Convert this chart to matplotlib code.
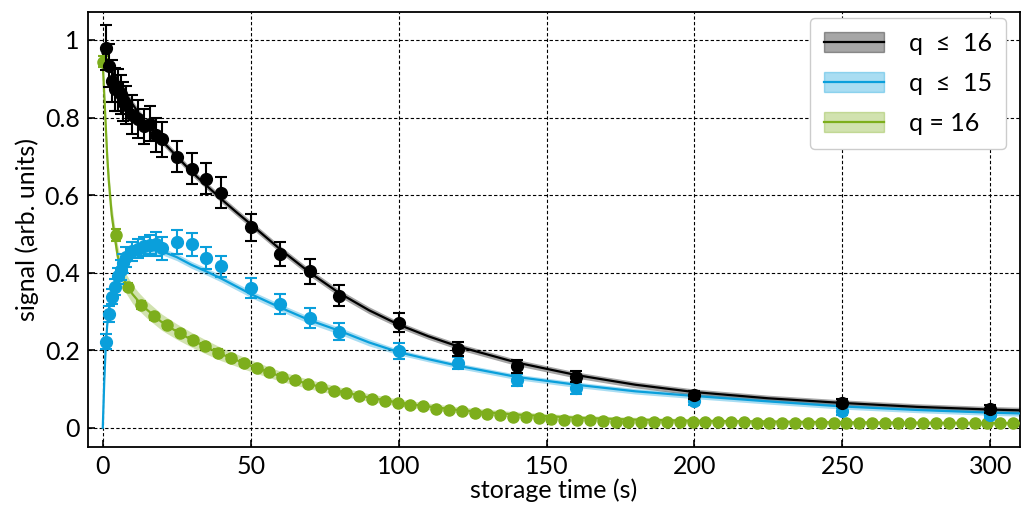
import matplotlib
matplotlib.use("Agg")
import matplotlib.pyplot as plt
from matplotlib.patches import Patch
from matplotlib.lines import Line2D

plt.rcParams['font.family'] = ['Lato', 'DejaVu Sans']

# measured points, q <= 16 (black) and q <= 15 (blue)
t_meas = [1, 2, 3, 4, 5, 6, 7, 8, 10, 12, 14, 16, 18, 20, 25, 30, 35, 40,
          50, 60, 70, 80, 100, 120, 140, 160, 200, 250, 300]
black_y = [0.980, 0.934, 0.894, 0.873, 0.871, 0.860, 0.841, 0.832, 0.807, 0.796,
           0.777, 0.784, 0.755, 0.744, 0.699, 0.668, 0.642, 0.606,
           0.517, 0.448, 0.403, 0.341, 0.271, 0.203, 0.158, 0.132, 0.085, 0.065, 0.049]
black_err = [0.058, 0.055, 0.055, 0.055, 0.055, 0.05, 0.05, 0.05, 0.05, 0.05,
             0.045, 0.045, 0.045, 0.045, 0.04, 0.04, 0.04, 0.04,
             0.035, 0.032, 0.031, 0.028, 0.025, 0.018, 0.016, 0.015, 0.01, 0.01, 0.01]
blue_y = [0.222, 0.293, 0.338, 0.363, 0.392, 0.407, 0.424, 0.440, 0.455, 0.462,
          0.468, 0.472, 0.474, 0.463, 0.479, 0.473, 0.437, 0.416,
          0.360, 0.319, 0.283, 0.248, 0.198, 0.167, 0.124, 0.102, 0.068, 0.042, 0.034]
blue_err = [0.02, 0.02, 0.02, 0.02, 0.02, 0.025, 0.025, 0.025, 0.025, 0.025,
            0.025, 0.025, 0.03, 0.03, 0.03, 0.03, 0.028, 0.028,
            0.025, 0.025, 0.025, 0.022, 0.02, 0.015, 0.015, 0.015, 0.01, 0.01, 0.01]

# q = 16 (green), dense sampling
t_green = [0, 4.33, 8.67, 13.0, 17.33, 21.67, 26.0, 30.33, 34.67, 39.0, 43.33, 47.67,
           52.0, 56.33, 60.67, 65.0, 69.33, 73.67, 78.0, 82.33, 86.67, 91.0, 95.33, 99.67,
           104.0, 108.33, 112.67, 117.0, 121.33, 125.67, 130.0, 134.33, 138.67, 143.0, 147.33, 151.67,
           156.0, 160.33, 164.67, 169.0, 173.33, 177.67, 182.0, 186.33, 190.67, 195.0, 199.33, 203.67,
           208.0, 212.33, 216.67, 221.0, 225.33, 229.67, 234.0, 238.33, 242.67, 247.0, 251.33, 255.67,
           260.0, 264.33, 268.67, 273.0, 277.33, 281.67, 286.0, 290.33, 294.67, 299.0, 303.33, 307.67]
green_y = [0.944, 0.497, 0.364, 0.317, 0.287, 0.265, 0.244, 0.227, 0.210, 0.194, 0.181, 0.167,
           0.155, 0.143, 0.132, 0.122, 0.113, 0.104, 0.096, 0.089, 0.081, 0.075, 0.069, 0.064,
           0.058, 0.055, 0.049, 0.045, 0.042, 0.039, 0.035, 0.032, 0.029, 0.027, 0.025, 0.023,
           0.021, 0.020, 0.019, 0.017, 0.016, 0.015, 0.015, 0.014, 0.014, 0.014, 0.014, 0.014,
           0.014, 0.014, 0.014, 0.013, 0.013, 0.013, 0.013, 0.013, 0.013, 0.013, 0.013, 0.013,
           0.013, 0.012, 0.012, 0.012, 0.012, 0.012, 0.012, 0.012, 0.012, 0.012, 0.012, 0.012]
green_err = [0.015, 0.015, 0.01, 0.01, 0.01, 0.008, 0.008, 0.008, 0.008, 0.008, 0.007, 0.007,
             0.007, 0.007, 0.006, 0.006, 0.006, 0.006, 0.005, 0.005, 0.005, 0.005, 0.005, 0.005,
             0.004, 0.004, 0.004, 0.004, 0.004, 0.004, 0.004, 0.004, 0.004, 0.004, 0.004, 0.004,
             0.003, 0.003, 0.003, 0.003, 0.003, 0.003, 0.003, 0.003, 0.003, 0.003, 0.003, 0.003,
             0.003, 0.003, 0.003, 0.003, 0.003, 0.003, 0.003, 0.003, 0.003, 0.003, 0.003, 0.003,
             0.003, 0.003, 0.003, 0.003, 0.003, 0.003, 0.003, 0.003, 0.003, 0.003, 0.003, 0.003]

# fitted curves, with half width of the confidence band
t_fit = [0, 0.5, 1, 1.5, 2, 3, 4, 5, 6, 7, 8, 10, 12, 15, 20, 25, 30, 35, 40, 45, 50, 60, 70, 80,
         90, 100, 110, 120, 140, 160, 180, 200, 225, 250, 275, 300, 310]
black_fit = [0.965, 0.957, 0.950, 0.942, 0.935, 0.92, 0.907, 0.895, 0.882, 0.870, 0.858, 0.835,
             0.813, 0.782, 0.740, 0.700, 0.660, 0.625, 0.590, 0.557, 0.525, 0.460, 0.400, 0.347,
             0.303, 0.266, 0.236, 0.210, 0.168, 0.136, 0.111, 0.092, 0.076, 0.064, 0.054, 0.047, 0.045]
black_band = [0.01] * 14 + [0.009] * 11 + [0.008] * 12
blue_fit = [0.0, 0.12, 0.21, 0.265, 0.30, 0.345, 0.375, 0.395, 0.41, 0.423, 0.435, 0.448,
            0.456, 0.46, 0.455, 0.44, 0.42, 0.403, 0.385, 0.365, 0.345, 0.31, 0.277, 0.25,
            0.22, 0.195, 0.177, 0.16, 0.131, 0.111, 0.094, 0.082, 0.068, 0.055, 0.046, 0.039, 0.037]
blue_band = [0.01] * 14 + [0.009] * 11 + [0.007] * 12
green_fit = [0.94, 0.86, 0.78, 0.70, 0.64, 0.55, 0.495, 0.445, 0.41, 0.385, 0.37, 0.345,
             0.327, 0.304, 0.272, 0.248, 0.227, 0.208, 0.19, 0.175, 0.16, 0.133, 0.112, 0.094,
             0.078, 0.065, 0.055, 0.046, 0.034, 0.026, 0.021, 0.018, 0.016, 0.014, 0.013, 0.012, 0.012]
green_band = [0.01, 0.015, 0.02, 0.025, 0.027, 0.028, 0.028, 0.027, 0.026, 0.025, 0.025, 0.024,
              0.023, 0.022, 0.021, 0.02, 0.019, 0.018, 0.017, 0.016, 0.015, 0.013, 0.012, 0.011,
              0.010, 0.009, 0.0085, 0.008, 0.007, 0.006, 0.006, 0.005, 0.005, 0.005, 0.005, 0.005, 0.005]

labels = ['q  \u2264  16', 'q  \u2264  15', 'q = 16']
c_black = 'black'
c_blue = '#0a9fdb'
c_green = '#7dae1c'

fig, ax = plt.subplots(figsize=(10.23, 5.23), dpi=100)
fig.subplots_adjust(left=0.086, right=0.997, top=0.977, bottom=0.145)

ax.grid(True, color='black', linestyle=(0, (3, 2)), linewidth=0.8)
ax.set_axisbelow(True)

def band(x, y, w, col, a):
    lo = [v - d for v, d in zip(y, w)]
    hi = [v + d for v, d in zip(y, w)]
    ax.fill_between(x, lo, hi, color=col, alpha=a, lw=0, zorder=2)
    ax.plot(x, y, color=col, lw=1.6, zorder=3)

band(t_fit, green_fit, green_band, c_green, 0.35)
band(t_fit, blue_fit, blue_band, c_blue, 0.35)
band(t_fit, black_fit, black_band, c_black, 0.35)

ax.errorbar(t_green, green_y, yerr=green_err, fmt='o', color=c_green, ms=8,
            capsize=3.5, elinewidth=1.5, capthick=1.5, zorder=4)
ax.errorbar(t_meas, blue_y, yerr=blue_err, fmt='o', color=c_blue, ms=8.5,
            capsize=4, elinewidth=1.5, capthick=1.5, zorder=5)
ax.errorbar(t_meas, black_y, yerr=black_err, fmt='o', color=c_black, ms=8.5,
            capsize=4, elinewidth=1.5, capthick=1.5, zorder=6)

ax.set_xlim(-5, 310)
ax.set_ylim(-0.05, 1.072)
ax.set_xticks([0, 50, 100, 150, 200, 250, 300])
ax.set_yticks([0, 0.2, 0.4, 0.6, 0.8, 1.0])
ax.set_yticklabels(['0', '0.2', '0.4', '0.6', '0.8', '1'])
ax.tick_params(direction='in', length=5, width=1.2, labelsize=18, pad=6)
for s in ax.spines.values():
    s.set_linewidth(1.3)

ax.set_xlabel('storage time (s)', fontsize=18, labelpad=0)
ax.set_ylabel('signal (arb. units)', fontsize=18, labelpad=4)

handles = []
for col in [c_black, c_blue, c_green]:
    handles.append((Patch(facecolor=col, edgecolor=col, alpha=0.35),
                    Line2D([], [], color=col, lw=1.6)))
ax.legend(handles, labels, loc='upper right', bbox_to_anchor=(0.985, 0.986),
          fontsize=18, handlelength=2.4, handleheight=0.85, labelspacing=0.68,
          borderpad=0.55, handletextpad=1.0, framealpha=1, edgecolor='#cccccc',
          borderaxespad=0)

fig.savefig('out.png', dpi=100)
